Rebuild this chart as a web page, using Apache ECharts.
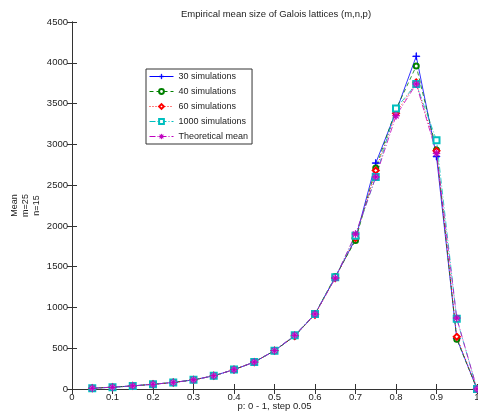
<!DOCTYPE html>
<html>
<head>
<meta charset="utf-8">
<script src="https://cdn.jsdelivr.net/npm/echarts@6/dist/echarts.min.js"></script>
<style>html,body{margin:0;padding:0;background:#fff}#chart{width:478px;height:413px}</style>
</head>
<body>
<div id="chart"></div>
<script>
var p_list = [0.05,0.1,0.15,0.2,0.25,0.3,0.35,0.4,0.45,0.5,0.55,0.6,0.65,0.7,0.75,0.8,0.85,0.9,0.95,1.0];
var sim30_list = [10,22,38,58,80,112,162,238,330,470,650,920,1370,1840,2770,3400,4080,2850,620,0];
var sim40_list = [10,22,38,58,80,112,162,238,330,470,650,920,1380,1820,2710,3430,3960,2930,610,0];
var sim60_list = [10,22,38,58,80,112,162,238,330,470,650,910,1360,1850,2680,3380,3760,2920,640,0];
var sim1000_list = [10,22,38,58,80,112,162,238,330,470,660,920,1370,1880,2600,3440,3740,3050,860,0];
var theo_list = [10,22,38,58,80,112,162,238,330,470,660,920,1360,1900,2600,3350,3740,2890,870,0];
var names = ['30 simulations','40 simulations','60 simulations','1000 simulations','Theoretical mean'];

var plusPath = 'path://M4.6,0h0.8v10h-0.8zM0,4.6h10v0.8h-10z';
var starPath = 'path://M4.6,0h0.8v10h-0.8zM0,4.6h10v0.8h-10zM1.3,1.8l0.5,-0.5l6.9,6.9l-0.5,0.5zM8.2,1.3l0.5,0.5l-6.9,6.9l-0.5,-0.5z';

function pairs(vals){
    return p_list.map(function(p,i){ return [p, vals[i]]; });
}

function mkSeries(name, vals, color, dash, symbol, size){
    return {
        name: name,
        type: 'line',
        data: pairs(vals),
        symbol: symbol,
        symbolSize: size,
        showAllSymbol: true,
        lineStyle: {color: color, width: 0.8, type: dash},
        itemStyle: {color: color, borderColor: color, borderWidth: 0.8},
        emphasis: {disabled: true},
        animation: false
    };
}

var chartDom = document.getElementById('chart');
var myChart = echarts.init(chartDom);
var font = 'Liberation Sans, Arial, sans-serif';
var axisCol = '#333';

var option = {
    animation: false,
    title: {
        text: 'Empirical mean size of Galois lattices (m,n,p)',
        left: 176, top: 4,
        textStyle: {fontSize: 9.5, fontWeight: 'normal', color: '#222', fontFamily: font}
    },
    legend: {
        data: names,
        orient: 'vertical',
        left: 146, top: 69,
        itemWidth: 24, itemHeight: 6, itemGap: 6,
        padding: [3, 4, 3, 3],
        borderColor: '#333', borderWidth: 1,
        backgroundColor: '#fff',
        lineStyle: {width: 1},
        itemStyle: {borderWidth: 0.8},
        textStyle: {fontSize: 9, color: '#222', fontFamily: font}
    },
    grid: {left: 72, right: 1, top: 22, bottom: 24, outerBoundsMode: 'none', containLabel: false},
    xAxis: [{
        type: 'value', min: 0, max: 1, interval: 0.1,
        name: 'p: 0 - 1, step 0.05', nameLocation: 'middle', nameGap: 12, nameMoveOverlap: false,
        nameTextStyle: {fontSize: 9.5, color: '#222', fontFamily: font},
        axisLine: {lineStyle: {color: axisCol}},
        axisTick: {inside: true, length: 5, lineStyle: {color: axisCol}},
        axisLabel: {fontSize: 9.5, color: '#222', margin: 3, fontFamily: font},
        splitLine: {show: false}
    }, {
        type: 'value', min: 0, max: 1, interval: 0.1, position: 'top',
        axisLine: {show: true, lineStyle: {color: axisCol}},
        axisTick: {inside: true, length: 5, lineStyle: {color: axisCol}},
        axisLabel: {show: false}, splitLine: {show: false}
    }],
    yAxis: [{
        type: 'value', min: 0, max: 4500, interval: 500,
        name: 'Mean\nm=25\nn=15', nameLocation: 'middle', nameGap: 30, nameRotate: 90, nameMoveOverlap: false,
        nameTextStyle: {fontSize: 9, color: '#222', fontFamily: font, lineHeight: 11},
        axisLine: {show: true, lineStyle: {color: axisCol}},
        axisTick: {show: true, inside: true, length: 5, lineStyle: {color: axisCol}},
        axisLabel: {fontSize: 9.5, color: '#222', margin: 4, fontFamily: font,
            formatter: function(v){ return String(v); }},
        splitLine: {show: false}
    }, {
        type: 'value', min: 0, max: 4500, interval: 500, position: 'right',
        axisLine: {show: true, lineStyle: {color: axisCol}},
        axisTick: {show: true, inside: true, length: 5, lineStyle: {color: axisCol}},
        axisLabel: {show: false}, splitLine: {show: false}
    }],
    series: [
        mkSeries(names[0], sim30_list, '#0000ff', 'solid', plusPath, 7),
        mkSeries(names[1], sim40_list, '#008000', [4, 3], 'emptyCircle', 5),
        mkSeries(names[2], sim60_list, '#ff0000', [1, 2], 'emptyDiamond', 6),
        mkSeries(names[3], sim1000_list, '#00bfbf', [6, 2, 1, 2], 'emptyRect', 6),
        mkSeries(names[4], theo_list, '#bf00bf', [6, 2, 1, 2], starPath, 7)
    ]
};

option && myChart.setOption(option);
</script>
</body>
</html>
